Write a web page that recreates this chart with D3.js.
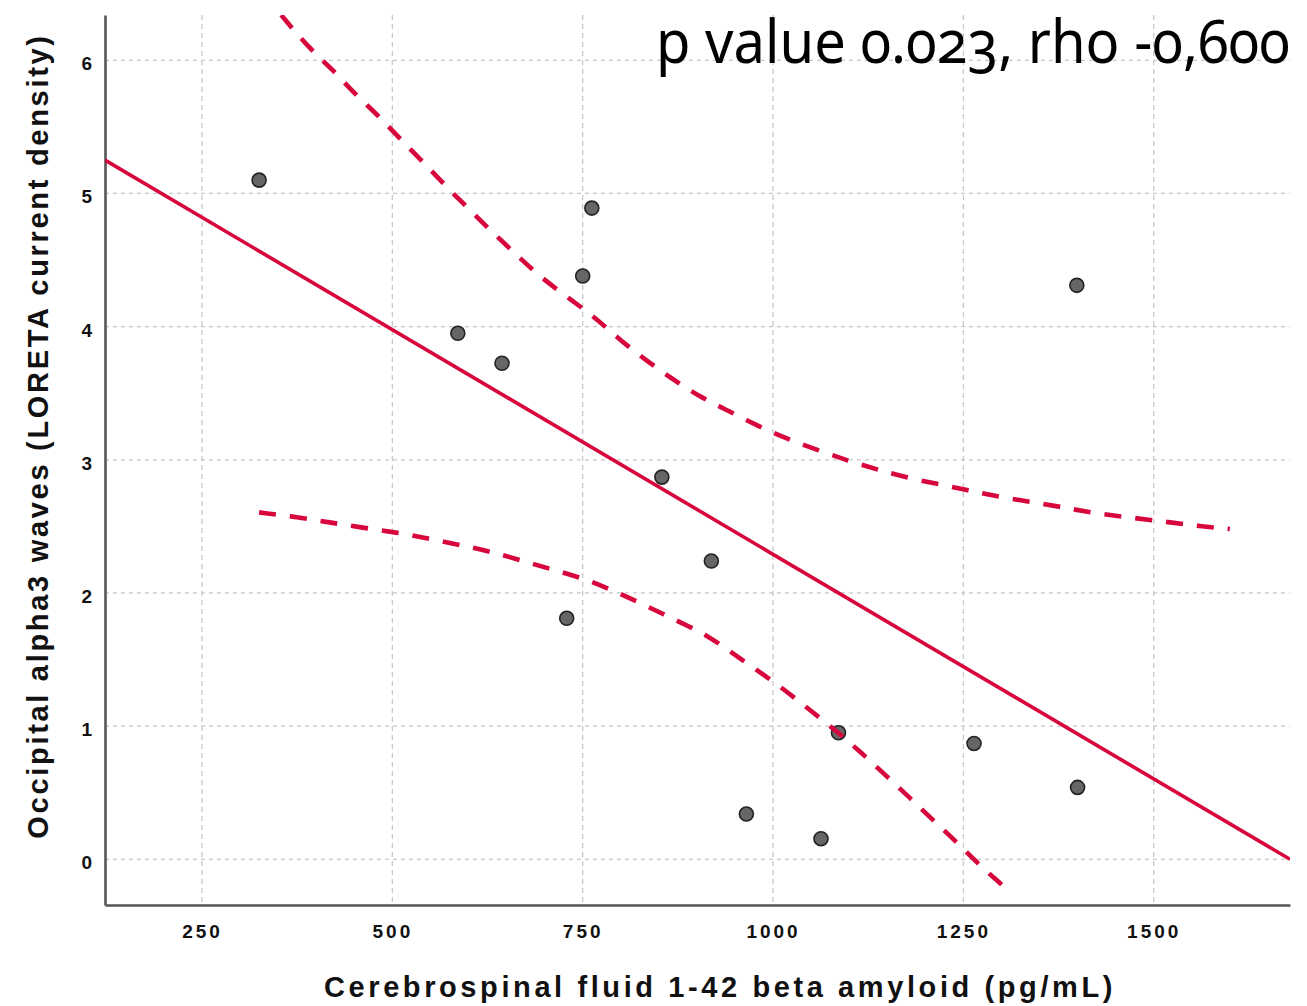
<!DOCTYPE html>
<html>
<head>
<meta charset="utf-8">
<script src="https://cdn.jsdelivr.net/npm/d3@7"></script>
<style>
  html, body { margin: 0; padding: 0; background: #fff; }
  svg { display: block; }
</style>
</head>
<body>
<div id="chart"></div>
<script>
// scatter values
const csf = [325, 762, 750, 586, 644, 854, 919, 729, 1086, 1264, 965, 1063, 1399, 1400];
const alpha3 = [5.10, 4.89, 4.38, 3.95, 3.725, 2.87, 2.24, 1.81, 0.95, 0.87, 0.34, 0.155, 4.31, 0.54];

// fit line end points
const fitX = [122.6, 1679];
const fitY = [5.25, 0.0];

// confidence band curves
const upperX = [354, 389, 420, 450, 481, 510, 540, 571, 602, 633, 663, 694, 729, 765, 795, 830, 867, 903, 939, 978, 1017, 1058, 1100, 1138, 1180, 1224, 1265, 1307, 1351, 1392, 1434, 1478, 1522, 1564, 1600];
const upperY = [6.34, 6.10, 5.94, 5.75, 5.59, 5.41, 5.24, 5.05, 4.875, 4.70, 4.54, 4.375, 4.225, 4.075, 3.92, 3.76, 3.61, 3.475, 3.375, 3.26, 3.16, 3.075, 2.99, 2.925, 2.86, 2.81, 2.76, 2.71, 2.675, 2.63, 2.59, 2.56, 2.53, 2.50, 2.48];
const lowerX = [325, 376, 417, 461, 505, 547, 589, 630, 672, 714, 756, 795, 833, 874, 912, 946, 982, 1018, 1051, 1086, 1116, 1149, 1180, 1211, 1242, 1272, 1305, 1312];
const lowerY = [2.605, 2.57, 2.53, 2.49, 2.455, 2.41, 2.36, 2.31, 2.24, 2.17, 2.10, 2.005, 1.905, 1.79, 1.69, 1.55, 1.41, 1.26, 1.11, 0.95, 0.80, 0.625, 0.46, 0.29, 0.125, -0.05, -0.21, -0.26];

const xTicks = [250, 500, 750, 1000, 1250, 1500];
const yTicks = [0, 1, 2, 3, 4, 5, 6];

const xTitle = "Cerebrospinal fluid 1-42 beta amyloid (pg/mL)";
const yTitle = "Occipital alpha3 waves (LORETA current density)";
const note = "p value 0.023, rho -0,600";

const W = 1307, H = 1006;
const pad = { t: 15, b: 101, s: 105, e: 17 };
const red = "#d7063c";
const bold = "'Liberation Sans', Arial, sans-serif";

const svg = d3.select("#chart").append("svg").attr("width", W).attr("height", H);

const x = d3.scaleLinear().domain([122.6, 1679]).range([pad.s, W - pad.e]);
const y = d3.scaleLinear().domain([-0.343, 6.34]).range([H - pad.b, pad.t]);

svg.append("defs").append("clipPath").attr("id", "plot")
  .append("rect").attr("x", pad.s).attr("y", pad.t)
  .attr("width", W - pad.s - pad.e).attr("height", H - pad.t - pad.b);

// grid
svg.append("g").selectAll("line").data(xTicks).enter().append("line")
  .attr("x1", (d) => x(d)).attr("x2", (d) => x(d))
  .attr("y1", pad.t).attr("y2", H - pad.b)
  .attr("stroke", "#c8c8c8").attr("stroke-width", 1.3).attr("stroke-dasharray", "5,4");
svg.append("g").selectAll("line").data(yTicks).enter().append("line")
  .attr("x1", pad.s).attr("x2", W - pad.e)
  .attr("y1", (d) => y(d)).attr("y2", (d) => y(d))
  .attr("stroke", "#c8c8c8").attr("stroke-width", 1.3).attr("stroke-dasharray", "4,4");

// axes
const xAxis = svg.append("g").attr("transform", `translate(0, ${H - pad.b})`)
  .call(d3.axisBottom(x).tickValues(xTicks).tickSize(0).tickPadding(0).tickFormat(d3.format("d")));
const yAxis = svg.append("g").attr("transform", `translate(${pad.s}, 0)`)
  .call(d3.axisLeft(y).tickValues(yTicks).tickSize(0).tickPadding(13).tickFormat(d3.format("d")));
[xAxis, yAxis].forEach((a) => {
  a.select(".domain").attr("stroke", "#555").attr("stroke-width", 2.6);
  a.selectAll("text").attr("font-family", bold)
    .attr("font-weight", "bold").attr("font-size", 19).attr("fill", "#111");
});
xAxis.selectAll("text").attr("dy", null).attr("y", 33).style("letter-spacing", "3px");
yAxis.selectAll("text").attr("dy", "0.5em").attr("dx", 0);

// points
svg.append("g").selectAll("circle").data(csf).enter().append("circle")
  .attr("cx", (d) => x(d)).attr("cy", (d, i) => y(alpha3[i]))
  .attr("r", 7).attr("fill", "#666").attr("stroke", "#222").attr("stroke-width", 1.6);

// fit + band
const line = d3.line().x((d) => x(d[0])).y((d) => y(d[1]));
const lines = svg.append("g").attr("clip-path", "url(#plot)");
lines.append("path").datum(d3.zip(fitX, fitY)).attr("d", line)
  .attr("fill", "none").attr("stroke", red).attr("stroke-width", 3.6);
const curve = d3.line().x((d) => x(d[0])).y((d) => y(d[1])).curve(d3.curveBasis);
[d3.zip(upperX, upperY), d3.zip(lowerX, lowerY)].forEach((pts) => {
  lines.append("path").datum(pts).attr("d", curve)
    .attr("fill", "none").attr("stroke", red).attr("stroke-width", 4.6)
    .attr("stroke-dasharray", "17,14");
});

// titles
svg.append("text").text(xTitle)
  .attr("x", 720).attr("y", 997).attr("text-anchor", "middle")
  .attr("font-family", bold).attr("font-weight", "bold")
  .attr("font-size", 29).attr("fill", "#111").style("letter-spacing", "3.6px");
svg.append("text").text(yTitle)
  .attr("transform", "translate(48, 436) rotate(-90)").attr("text-anchor", "middle")
  .attr("font-family", bold).attr("font-weight", "bold")
  .attr("font-size", 29).attr("fill", "#111").style("letter-spacing", "2.7px");

// stats note, squeezed to the width it has in the picture
const noteText = svg.append("text").text(note)
  .attr("x", 0).attr("y", 0)
  .attr("font-family", "'Noto Sans', sans-serif").attr("font-size", 60).attr("fill", "#000")
  .style("font-variant-numeric", "oldstyle-nums");
const nw = noteText.node().getComputedTextLength();
noteText.attr("transform", `translate(656, 63) scale(${634 / nw}, 1)`);
</script>
</body>
</html>
